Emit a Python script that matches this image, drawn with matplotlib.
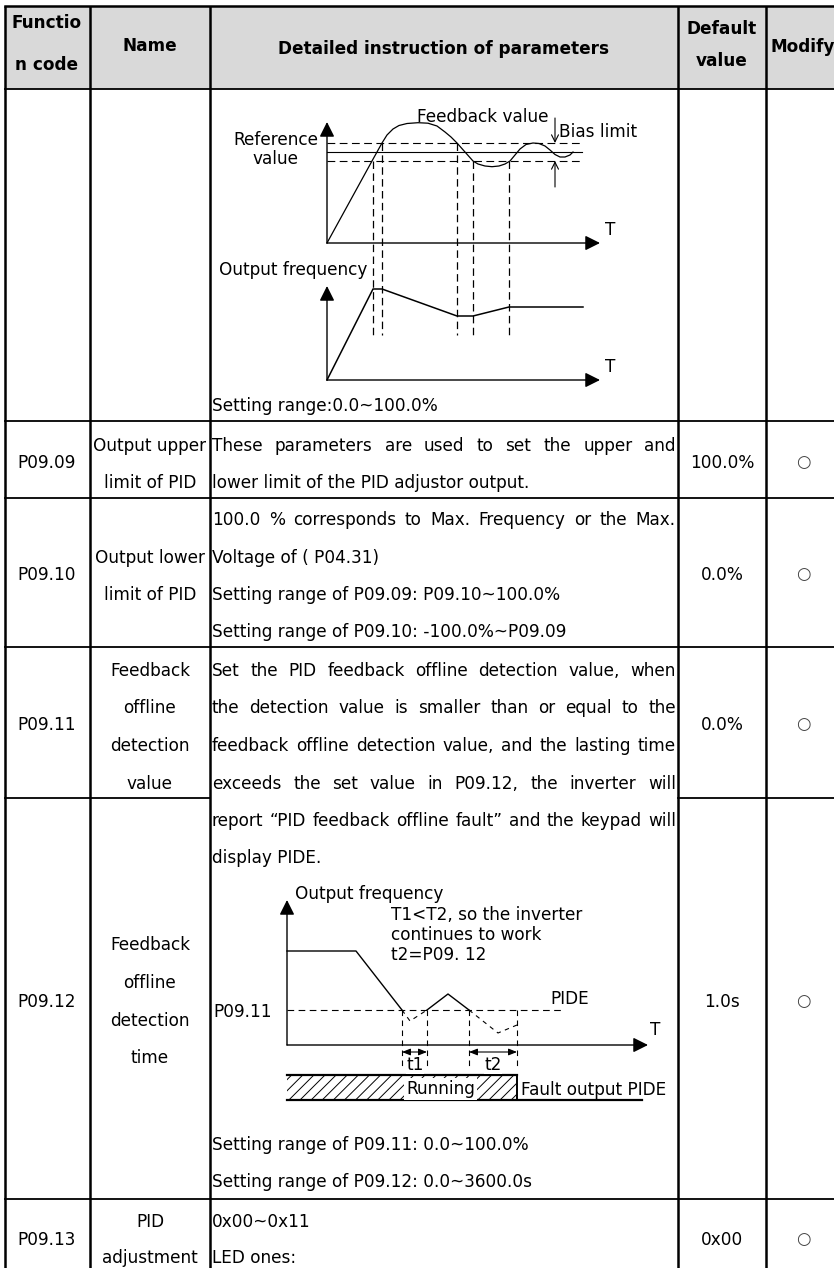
import matplotlib
matplotlib.use("Agg")
import matplotlib.pyplot as plt
from matplotlib.transforms import Affine2D
from matplotlib.patches import Rectangle

# ---------------- table content ----------------
header_labels = [["Functio", "n code"], ["Name"], ["Detailed instruction of parameters"],
                 ["Default", "value"], ["Modify"]]
codes = ["P09.09", "P09.10", "P09.11", "P09.12", "P09.13"]
names = [["Output upper", "limit of PID"],
         ["Output lower", "limit of PID"],
         ["Feedback", "offline", "detection", "value"],
         ["Feedback", "offline", "detection", "time"],
         ["PID", "adjustment"]]
defaults = ["100.0%", "0.0%", "0.0%", "1.0s", "0x00"]
modify = ["○", "○", "○", "○", "○"]

desc_first = ["Setting range:0.0~100.0%"]
desc_0909 = ["These parameters are used to set the upper and",
             "lower limit of the PID adjustor output."]
desc_0910 = ["100.0 % corresponds to Max. Frequency or the Max.",
             "Voltage of ( P04.31)",
             "Setting range of P09.09: P09.10~100.0%",
             "Setting range of P09.10: -100.0%~P09.09"]
desc_0911 = ["Set the PID feedback offline detection value, when",
             "the detection value is smaller than or equal to the",
             "feedback offline detection value, and the lasting time",
             "exceeds the set value in P09.12, the inverter will"]
desc_0912a = ["report \u201cPID feedback offline fault\u201d and the keypad will",
              "display PIDE."]
desc_0912b = ["Setting range of P09.11: 0.0~100.0%",
              "Setting range of P09.12: 0.0~3600.0s"]
desc_0913 = ["0x00~0x11", "LED ones:"]
justified = {desc_0909[0], desc_0910[0], desc_0911[0], desc_0911[1],
             desc_0911[2], desc_0911[3], desc_0912a[0]}

# ---------------- diagram data (local units, y up) ----------------
ref_value, ref_bias = 91, 9
fb_t = [0, 45, 55, 60, 66, 72, 80, 91, 101, 110, 118, 124, 130, 138, 146, 151,
        158, 165, 172, 178, 183, 188, 193, 199, 206, 212, 218, 223, 228, 233,
        238, 243, 246]
fb_v = [0, 82, 100, 108, 114, 117.5, 119.5, 120.3, 119.8, 117, 111, 106, 100,
        91, 82, 79, 77, 76.3, 77, 79, 82, 88, 94, 98.5, 100, 99.5, 97, 93,
        88.5, 86, 86, 88, 91]
of_t = [0, 46, 55, 130, 146, 182, 256]
of_v = [0, 91, 91, 64, 64, 73, 73]
cross_t = [46, 55, 130, 146, 182]
cross_v = [82, 100, 100, 82, 82]

pide_level = 35
run_t = [0, 69, 115]
run_v = [94, 94, 35]
dip1_t = [115, 123, 140]
dip1_v = [35, 24, 35]
bump_t = [140, 161, 182]
bump_v = [35, 51, 35]
dip2_t = [182, 211, 230]
dip2_v = [35, 12, 20]
win_t = [115, 140, 182, 230]

# ---------------- figure ----------------
W, H = 834, 1268
fig = plt.figure(figsize=(W / 100, H / 100), dpi=100)
ax = fig.add_axes([0, 0, 1, 1])
ax.set_xlim(0, W)
ax.set_ylim(H, 0)
ax.axis("off")
plt.rcParams["font.family"] = ["DejaVu Sans"]
plt.rcParams["hatch.linewidth"] = 0.7
FS = 12.2
r = fig.canvas.get_renderer()


def txt(x, y, s, ha="left", size=FS, weight="normal", **kw):
    return ax.text(x, y + 6.2, s, ha=ha, va="baseline", fontsize=size,
                   fontweight=weight, color="black", **kw)


def line_of_text(y, s, x0=212, x1=676):
    if s not in justified:
        txt(x0, y, s)
        return
    words = s.split()
    ts = [txt(0, y, w) for w in words]
    ws = [t.get_window_extent(r).width for t in ts]
    gap = (x1 - x0 - sum(ws)) / (len(words) - 1)
    x = x0
    for t, w in zip(ts, ws):
        t.set_x(x)
        x += w + gap


# header background
ax.add_patch(Rectangle((5, 6), 840, 83, facecolor="#d9d9d9", edgecolor="none"))

# grid lines
cols = [5, 90, 210, 678, 766, 840]
for x in cols:
    ax.plot([x, x], [6, H], color="black", lw=1.8, solid_capstyle="butt")
for y in [6, 89, 421, 498, 647, 1199]:
    ax.plot([5, 840], [y, y], color="black", lw=1.3 if y > 6 else 1.8)
ax.plot([5, 210], [798, 798], color="black", lw=1.3)
ax.plot([678, 840], [798, 798], color="black", lw=1.3)

# header text
hdr_x = [47, 150, 444, 722, 803]
hdr_y = [[22, 64], [45], [48], [28, 60], [46]]
for lab, x, ys in zip(header_labels, hdr_x, hdr_y):
    for s, y in zip(lab, ys):
        txt(x, y, s, ha="center", weight="bold")

# per-row cells
code_y = [462, 574, 724, 1001, 1239]
name_y = [[445, 482], [557, 594], [670, 707, 745, 783], [944, 982, 1020, 1057], [1221, 1257]]
for c, n, d, m, cy, ny in zip(codes, names, defaults, modify, code_y, name_y):
    txt(47, cy, c, ha="center")
    for s, y in zip(n, ny):
        txt(150, y, s, ha="center")
    txt(722, cy, d, ha="center")
    ax.text(803, cy, m, ha="center", va="center", fontsize=12, color="#444444")

for s, y in zip(desc_first, [405]):
    line_of_text(y, s)
for block, ys in [(desc_0909, [445, 482]), (desc_0910, [519, 557, 594, 631]),
                  (desc_0911, [670, 707, 745, 783]), (desc_0912a, [820, 857]),
                  (desc_0912b, [1144, 1181]), (desc_0913, [1221, 1257])]:
    for s, y in zip(block, ys):
        line_of_text(y, s)


def local(ox, oy):
    return Affine2D().scale(1, -1).translate(ox, oy) + ax.transData


def arrow(tr, p0, p1, style="-|>", lw=1.0, ms=10):
    ax.annotate("", xy=p1, xytext=p0, xycoords=tr, textcoords=tr,
                arrowprops=dict(arrowstyle=style, lw=lw, color="black",
                                shrinkA=0, shrinkB=0, mutation_scale=ms))


HEAD = "-|>,head_length=0.9,head_width=0.45"

# ---------------- diagram 1 ----------------
tA = local(327, 243)
tB = local(327, 380)
arrow(tA, (0, 0), (0, 121), HEAD, 1.0)
arrow(tA, (0, 0), (273, 0), HEAD, 1.0)
arrow(tB, (0, 0), (0, 94), HEAD, 1.0)
arrow(tB, (0, 0), (273, 0), HEAD, 1.0)
ax.plot([0, 255], [ref_value + ref_bias] * 2, transform=tA, color="k", lw=0.8, ls=(0, (7, 4)))
ax.plot([0, 255], [ref_value] * 2, transform=tA, color="k", lw=0.8)
ax.plot([0, 255], [ref_value - ref_bias] * 2, transform=tA, color="k", lw=0.8, ls=(0, (7, 4)))
ax.plot(fb_t, fb_v, transform=tA, color="k", lw=0.9, solid_joinstyle="round")
ax.plot(of_t, of_v, transform=tB, color="k", lw=1.1)
for t, v in zip(cross_t, cross_v):
    ax.plot([327 + t, 327 + t], [243 - v, 335], color="k", lw=0.9, ls=(0, (6, 3.5)))
arrow(tA, (228, 125), (228, 100), "->,head_length=0.5,head_width=0.25", 0.8)
arrow(tA, (228, 56), (228, 82), "->,head_length=0.5,head_width=0.25", 0.8)
txt(417, 116, "Feedback value")
txt(559, 131, "Bias limit")
txt(276, 139, "Reference", ha="center")
txt(276, 158, "value", ha="center")
txt(605, 229, "T")
txt(605, 366, "T")
txt(219, 269, "Output frequency")

# ---------------- diagram 2 ----------------
tC = local(287, 1045)
arrow(tC, (0, 0), (0, 145), HEAD, 1.0)
arrow(tC, (0, 0), (361, 0), HEAD, 1.0)
ax.plot([0, 275], [pide_level] * 2, transform=tC, color="k", lw=0.8, ls=(0, (6, 4)))
ax.plot(run_t, run_v, transform=tC, color="k", lw=1.0)
ax.plot(dip1_t, dip1_v, transform=tC, color="k", lw=0.8, ls=(0, (4, 4)))
ax.plot(bump_t, bump_v, transform=tC, color="k", lw=1.0)
ax.plot(dip2_t, dip2_v, transform=tC, color="k", lw=0.8, ls=(0, (4, 4)))
for t in win_t:
    ax.plot([t, t], [pide_level, -22], transform=tC, color="k", lw=0.8, ls=(0, (5, 4)))
arrow(tC, (win_t[0], -7), (win_t[1], -7), "<|-|>,head_length=0.5,head_width=0.2", 0.8)
arrow(tC, (win_t[2], -7), (win_t[3], -7), "<|-|>,head_length=0.5,head_width=0.2", 0.8)
ax.add_patch(Rectangle((0, -55), win_t[3], 25, transform=tC, facecolor="none",
                       edgecolor="black", hatch="///", lw=0))
ax.plot([0, win_t[3]], [-30, -30], transform=tC, color="k", lw=1.6)
ax.plot([0, 355], [-55, -55], transform=tC, color="k", lw=1.6)
ax.plot([win_t[3], win_t[3]], [-30, -55], transform=tC, color="k", lw=1.4)
txt(295, 893, "Output frequency")
txt(391, 914, "T1<T2, so the inverter")
txt(391, 934, "continues to work")
txt(391, 954, "t2=P09. 12")
txt(550, 998, "PIDE")
txt(213, 1011, "P09.11")
txt(650, 1029, "T")
txt(415, 1064, "t1", ha="center", bbox=dict(facecolor="white", edgecolor="none", pad=0))
txt(493, 1064, "t2", ha="center", bbox=dict(facecolor="white", edgecolor="none", pad=0))
txt(406, 1088, "Running", bbox=dict(facecolor="white", edgecolor="none", pad=1.5))
txt(521, 1089, "Fault output PIDE")

fig.savefig("out.png", dpi=100)
